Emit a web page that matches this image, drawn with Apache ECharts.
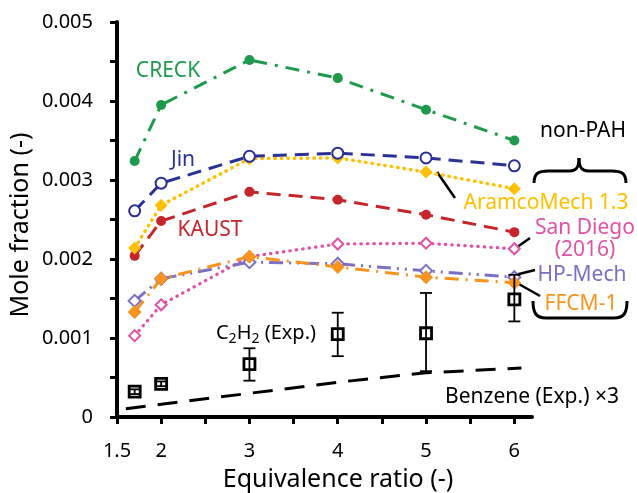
<!DOCTYPE html>
<html>
<head>
<meta charset="utf-8">
<script src="https://cdn.jsdelivr.net/npm/echarts@6/dist/echarts.min.js"></script>
<style>html,body{margin:0;padding:0;background:#fff}#c{width:637px;height:493px}</style>
</head>
<body>
<div id="c"></div>
<script>
// ---- data ----
const phi = [1.7, 2, 3, 4, 5, 6];
const creck = [3.24e-3, 3.95e-3, 4.52e-3, 4.29e-3, 3.89e-3, 3.50e-3];
const jin = [2.61e-3, 2.96e-3, 3.30e-3, 3.34e-3, 3.28e-3, 3.18e-3];
const aramco = [2.14e-3, 2.68e-3, 3.27e-3, 3.28e-3, 3.10e-3, 2.89e-3];
const kaust = [2.04e-3, 2.48e-3, 2.85e-3, 2.75e-3, 2.56e-3, 2.34e-3];
const sanDiego = [1.03e-3, 1.42e-3, 2.03e-3, 2.19e-3, 2.20e-3, 2.13e-3];
const hpMech = [1.47e-3, 1.75e-3, 1.96e-3, 1.94e-3, 1.85e-3, 1.77e-3];
const ffcm = [1.33e-3, 1.75e-3, 2.03e-3, 1.90e-3, 1.77e-3, 1.70e-3];
const c2h2 = [0.32e-3, 0.42e-3, 0.67e-3, 1.05e-3, 1.06e-3, 1.49e-3];
const c2h2Low = [0.29e-3, 0.39e-3, 0.46e-3, 0.77e-3, 0.58e-3, 1.21e-3];
const c2h2High = [0.35e-3, 0.45e-3, 0.87e-3, 1.32e-3, 1.57e-3, 1.80e-3];
const benzenePhi = [1.6, 2, 3, 4, 5, 6.08];
const benzeneX3 = [0.105e-3, 0.16e-3, 0.30e-3, 0.44e-3, 0.56e-3, 0.62e-3];
const xTicks = [1.5, 2, 2.5, 3, 3.5, 4, 4.5, 5, 5.5, 6];
const xLabels = [1.5, 2, 3, 4, 5, 6];
const yTicks = [0, 0.0005, 0.001, 0.0015, 0.002, 0.0025, 0.003, 0.0035, 0.004, 0.0045, 0.005];
const yLabels = [0, 0.001, 0.002, 0.003, 0.004, 0.005];

const FONT = '"Noto Sans", "Open Sans", sans-serif';
const pair = (xs, ys) => xs.map((x, i) => [x, ys[i]]);

function lineSeries(name, ys, color, dash, symbol, size, opts) {
  opts = opts || {};
  return {
    name, type: 'line', data: pair(phi, ys), symbol, symbolSize: size,
    z: 2,
    lineStyle: { color, width: opts.width || 3, type: dash, cap: opts.cap || 'butt' },
    itemStyle: { color, borderColor: color, borderWidth: opts.bw || 0 },
    showSymbol: true, animation: false, silent: true
  };
}
function txt(text, x, y, fill, size) {
  return { type: 'text', style: { text, x, y, fill, font: (size || 21) + 'px ' + FONT, textAlign: 'center', textVerticalAlign: 'middle' } };
}
function seg(x1, y1, x2, y2, w) {
  return { type: 'line', shape: { x1, y1, x2, y2 }, style: { stroke: '#000', lineWidth: w || 2.5 } };
}
function bez(x1, y1, cpx1, cpy1, cpx2, cpy2, x2, y2) {
  return { type: 'bezierCurve', shape: { x1, y1, x2, y2, cpx1, cpy1, cpx2, cpy2 }, style: { stroke: '#000', fill: null, lineWidth: 3 } };
}

const chart = echarts.init(document.getElementById('c'), null, { renderer: 'canvas' });
const option = {
  animation: false,
  grid: { left: 117, right: 105, top: 22, bottom: 76 },
  xAxis: {
    type: 'value', min: 1.5, max: 6.2,
    axisLine: { lineStyle: { color: '#000', width: 4 } },
    axisTick: { show: true, inside: false, length: 7, lineStyle: { color: '#000', width: 3 }, customValues: xTicks },
    axisLabel: { customValues: xLabels, color: '#000', fontSize: 20, fontFamily: FONT, margin: 24,
      formatter: v => String(v) },
    splitLine: { show: false }
  },
  yAxis: {
    type: 'value', min: 0, max: 0.005,
    axisLine: { show: true, lineStyle: { color: '#000', width: 4 } },
    axisTick: { show: true, inside: false, length: 7, lineStyle: { color: '#000', width: 3 }, customValues: yTicks },
    axisLabel: { customValues: yLabels, color: '#000', fontSize: 20, fontFamily: FONT, margin: 24,
      formatter: v => v === 0 ? '0' : v.toFixed(3) },
    splitLine: { show: false }
  },
  series: [
    { name: 'Benzene', type: 'line', data: pair(benzenePhi, benzeneX3), symbol: 'none', z: 1,
      lineStyle: { color: '#000', width: 3, type: [20, 12] } },
    { name: 'C2H2 err', type: 'custom', z: 3,
      data: phi.map((x, i) => [x, c2h2Low[i], c2h2High[i]]),
      renderItem: function (params, api) {
        const lo = api.coord([api.value(0), api.value(1)]);
        const hi = api.coord([api.value(0), api.value(2)]);
        const w = 6;
        const st = { stroke: '#000', lineWidth: 1.8 };
        return { type: 'group', children: [
          { type: 'line', shape: { x1: lo[0], y1: lo[1], x2: hi[0], y2: hi[1] }, style: st },
          { type: 'line', shape: { x1: lo[0] - w, y1: lo[1], x2: lo[0] + w, y2: lo[1] }, style: st },
          { type: 'line', shape: { x1: hi[0] - w, y1: hi[1], x2: hi[0] + w, y2: hi[1] }, style: st }
        ]};
      }
    },
    { name: 'C2H2', type: 'scatter', data: pair(phi, c2h2), symbol: 'rect', symbolSize: 11, z: 4,
      itemStyle: { color: 'rgba(255,255,255,0)', borderColor: '#000', borderWidth: 2.8, opacity: 1 } },
    lineSeries('San Diego', sanDiego, '#e052a5', [0.5, 6], 'emptyDiamond', [11, 11], { cap: 'round', width: 3.2, bw: 2.5 }),
    lineSeries('HP-Mech', hpMech, '#7c6fc4', [14, 6, 2, 6, 2, 6], 'emptyDiamond', [12, 12], { bw: 2.5 }),
    lineSeries('FFCM-1', ffcm, '#f7941d', [14, 7, 2, 7], 'diamond', [14, 14]),
    lineSeries('KAUST', kaust, '#c5252b', [14, 8], 'circle', 10),
    lineSeries('AramcoMech 1.3', aramco, '#ffc000', [0.5, 6], 'diamond', [13, 13], { cap: 'round', width: 3.5 }),
    lineSeries('Jin', jin, '#2b3194', [14, 8], 'emptyCircle', 11, { bw: 2.5 }),
    lineSeries('CRECK', creck, '#1f9a4c', [14, 8, 3, 8], 'circle', 10)
  ],
  graphic: [
    txt('CRECK', 168, 71, '#1f9a4c'),
    txt('Jin', 183, 160, '#2b3194'),
    txt('KAUST', 210, 230, '#c5252b'),
    txt('AramcoMech 1.3', 546, 203, '#ffc000'),
    txt('San Diego', 585, 228, '#e052a5'),
    txt('(2016)', 585, 250, '#e052a5'),
    txt('HP-Mech', 582, 275, '#7c6fc4'),
    txt('FFCM-1', 581, 304, '#f7941d'),
    txt('non-PAH', 583, 131, '#000'),
    txt('Benzene (Exp.) ×3', 532, 397, '#000', 21),
    { type: 'text', style: {
        text: '{n|C}{s|2}{n|H}{s|2}{n| (Exp.)}', x: 266, y: 333, fill: '#000', textAlign: 'center', textVerticalAlign: 'middle',
        rich: { n: { fontSize: 20, fontFamily: FONT, lineHeight: 24, verticalAlign: 'middle' },
                s: { fontSize: 14, fontFamily: FONT, lineHeight: 24, padding: [12, 0, 0, 0], verticalAlign: 'middle' } } } },
    txt('Equivalence ratio (-)', 338, 480, '#000', 25),
    { type: 'text', rotation: Math.PI / 2, x: 21, y: 225, style: { text: 'Mole fraction (-)', x: 0, y: 0, fill: '#000', font: '25px ' + FONT, textAlign: 'center', textVerticalAlign: 'middle' } },
    // leader lines
    seg(437, 172, 455, 198),
    seg(530, 238, 513, 250),
    seg(535, 270, 515, 275),
    seg(540, 296, 517, 283),
    // non-PAH brace
    bez(534, 183, 534, 173, 539, 171, 548, 171),
    seg(548, 171, 570, 171, 3),
    bez(570, 171, 576, 171, 579, 168, 579, 158),
    bez(579, 158, 579, 168, 582, 171, 588, 171),
    seg(588, 171, 612, 171, 3),
    bez(612, 171, 621, 171, 626, 173, 626, 183),
    // lower bracket
    bez(533, 301, 533, 313, 536, 318, 546, 318),
    seg(546, 318, 614, 318, 3),
    bez(614, 318, 624, 318, 627, 313, 627, 301)
  ]
};
chart.setOption(option);
</script>
</body>
</html>
